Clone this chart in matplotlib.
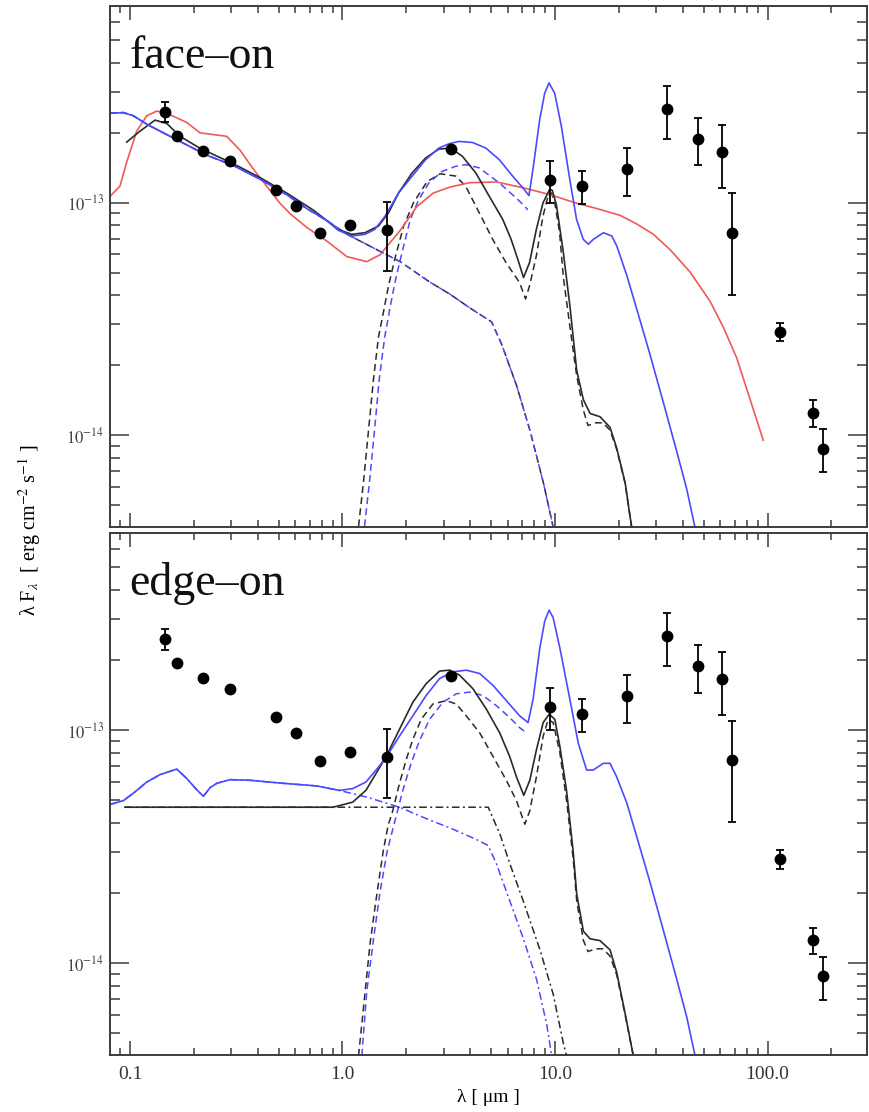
import numpy as np
import matplotlib
matplotlib.use("Agg")
import matplotlib.pyplot as plt
from matplotlib.ticker import LogLocator, NullFormatter

plt.rcParams['font.family'] = 'serif'
plt.rcParams['font.serif'] = ['Liberation Serif', 'DejaVu Serif']
plt.rcParams['mathtext.fontset'] = 'stix'

# all fluxes below are lambda*F_lambda in units of 1e-13 erg cm^-2 s^-1, wavelengths in micron
UNIT = 1e-13

# observed photometry (same in both panels)
obs_lam = [0.146, 0.166, 0.2215, 0.296, 0.487, 0.605, 0.785, 1.079, 1.617, 3.226,
           9.47, 13.45, 21.75, 33.8, 47.3, 60.9, 67.9, 114.7, 163.5, 181.6]
obs_f = [2.446, 1.94, 1.665, 1.504, 1.138, 0.970, 0.739, 0.802, 0.762, 1.698,
         1.249, 1.175, 1.393, 2.535, 1.884, 1.653, 0.742, 0.279, 0.1249, 0.0875]
obs_hi = [2.71, 1.94, 1.665, 1.504, 1.138, 0.970, 0.739, 0.802, 1.01, 1.698,
          1.508, 1.361, 1.72, 3.18, 2.31, 2.158, 1.097, 0.305, 0.141, 0.1064]
obs_lo = [2.21, 1.94, 1.665, 1.504, 1.138, 0.970, 0.739, 0.802, 0.508, 1.698,
          1.0, 0.983, 1.071, 1.884, 1.447, 1.154, 0.401, 0.253, 0.1089, 0.0694]

# ---- face-on models ----
red_face_lam = [0.0805, 0.0897, 0.0965, 0.1075, 0.120, 0.1335, 0.149, 0.185, 0.2135, 0.2466,
                0.285, 0.329, 0.380, 0.4395, 0.508, 0.566, 0.678, 0.842, 1.047, 1.30,
                1.50, 1.865, 2.235, 2.675, 3.205, 3.98, 5.32, 7.09, 9.47, 12.65,
                15.7, 20.2, 24.2, 29.0, 34.8, 43.2, 53.6, 61.9, 71.6, 82.7, 95.5]
red_face_f = [1.063, 1.177, 1.493, 2.028, 2.363, 2.472, 2.422, 2.21, 1.995, 1.96,
              1.927, 1.683, 1.396, 1.177, 0.993, 0.897, 0.783, 0.684, 0.586, 0.557,
              0.596, 0.757, 0.960, 1.099, 1.166, 1.218, 1.226, 1.157, 1.082, 0.993,
              0.943, 0.882, 0.810, 0.731, 0.627, 0.503, 0.377, 0.292, 0.215, 0.143, 0.0950]

blue_face_lam = [0.0805, 0.093, 0.1036, 0.120, 0.149, 0.185, 0.2296, 0.3062, 0.409, 0.546,
                 0.678, 0.842, 0.955, 1.104, 1.276, 1.42, 1.587, 1.837, 2.125, 2.458,
                 2.842, 3.17, 3.536, 4.09, 4.73, 5.47, 6.33, 7.06, 7.54, 7.87,
                 8.47, 8.94, 9.37, 9.97, 10.72, 11.74, 12.63, 13.58, 14.35, 15.15,
                 16.9, 18.51, 19.54, 21.8, 24.3, 28.0, 32.4, 37.4, 41.7, 45.6]
blue_face_f = [2.422, 2.437, 2.363, 2.172, 1.960, 1.770, 1.599, 1.444, 1.261, 1.082,
               0.943, 0.838, 0.76, 0.718, 0.730, 0.767, 0.875, 1.101, 1.297, 1.528,
               1.715, 1.79, 1.832, 1.813, 1.715, 1.528, 1.297, 1.156, 1.072, 1.386,
               2.27, 2.95, 3.27, 2.95, 2.12, 1.256, 0.847, 0.695, 0.662, 0.695,
               0.742, 0.718, 0.650, 0.484, 0.346, 0.222, 0.1374, 0.0851, 0.0585, 0.040]

black_face_lam = [0.0965, 0.1115, 0.1311, 0.149, 0.1719, 0.2135, 0.3062, 0.409, 0.546, 0.729,
                  0.955, 1.104, 1.276, 1.477, 1.647, 1.837, 2.125, 2.458, 2.842, 3.228,
                  3.667, 4.242, 4.906, 5.675, 6.215, 6.68, 7.11, 7.59, 8.17, 8.78,
                  9.44, 9.7, 10.15, 10.92, 11.75, 12.65, 13.6, 14.62, 16.29, 18.16,
                  19.51, 21.37, 22.96]
black_face_f = [1.820, 2.028, 2.262, 2.187, 1.927, 1.712, 1.469, 1.281, 1.099, 0.928,
                0.767, 0.730, 0.742, 0.793, 0.904, 1.101, 1.34, 1.554, 1.698, 1.715,
                1.581, 1.34, 1.064, 0.847, 0.695, 0.571, 0.476, 0.552, 0.767, 0.997,
                1.14, 1.13, 0.98, 0.62, 0.36, 0.19, 0.142, 0.124, 0.12, 0.108,
                0.088, 0.0626, 0.040]

dust_face_lam = [1.19, 1.256, 1.326, 1.40, 1.477, 1.56, 1.647, 1.77, 1.938, 2.16,
                 2.5, 2.88, 3.41, 3.80, 4.40, 5.09, 5.88, 6.81, 7.27, 7.59,
                 8.17, 8.78, 9.27, 9.62, 9.97, 10.5, 10.94, 11.77, 12.65, 13.6,
                 14.3, 15.5, 16.8, 18.16, 19.51, 21.37, 22.96]
dust_face_f = [0.0406, 0.0632, 0.105, 0.175, 0.264, 0.34, 0.44, 0.58, 0.79, 1.0,
               1.23, 1.33, 1.30, 1.175, 0.904, 0.695, 0.552, 0.453, 0.385, 0.439,
               0.590, 0.875, 1.064, 1.10, 1.0, 0.75, 0.48, 0.29, 0.18, 0.128,
               0.11, 0.113, 0.113, 0.105, 0.087, 0.062, 0.040]

bdust_face_lam = [1.27, 1.34, 1.415, 1.49, 1.58, 1.68, 1.78, 1.905, 2.086, 2.285,
                  2.549, 2.948, 3.41, 3.80, 4.40, 5.47, 6.56, 7.19, 7.45]
bdust_face_f = [0.0406, 0.0632, 0.105, 0.175, 0.264, 0.36, 0.47, 0.609, 0.847, 1.03,
                1.215, 1.362, 1.432, 1.456, 1.41, 1.215, 1.047, 0.966, 0.93]

star_face_lam = [0.0805, 0.093, 0.1036, 0.120, 0.149, 0.185, 0.2296, 0.3062, 0.409, 0.546,
                 0.678, 0.842, 1.048, 1.869, 2.578, 3.203, 3.98, 5.03, 5.61, 6.60,
                 7.63, 8.81, 9.82]
star_face_f = [2.422, 2.437, 2.363, 2.172, 1.960, 1.770, 1.599, 1.444, 1.261, 1.082,
               0.943, 0.838, 0.731, 0.557, 0.455, 0.404, 0.352, 0.307, 0.246, 0.163,
               0.1045, 0.0626, 0.040]

# ---- edge-on models ----
blue_edge_lam = [0.0805, 0.093, 0.1037, 0.1198, 0.1384, 0.1659, 0.1849, 0.206, 0.2215, 0.238,
                 0.256, 0.296, 0.367, 0.527, 0.757, 0.966, 1.117, 1.29, 1.439, 1.604,
                 1.853, 2.142, 2.476, 2.862, 3.309, 3.824, 4.42, 5.11, 5.90, 6.82,
                 7.47, 7.89, 8.48, 8.95, 9.38, 9.80, 10.54, 11.74, 12.86, 14.08,
                 15.14, 16.87, 18.14, 19.5, 21.8, 24.3, 28.0, 32.4, 37.4, 41.7, 45.6]
blue_edge_f = [0.479, 0.497, 0.535, 0.597, 0.643, 0.679, 0.619, 0.554, 0.519, 0.565,
               0.590, 0.612, 0.608, 0.590, 0.575, 0.550, 0.560, 0.598, 0.673, 0.762,
               0.940, 1.149, 1.406, 1.661, 1.775, 1.805, 1.746, 1.553, 1.336, 1.149,
               1.075, 1.358, 2.245, 2.934, 3.266, 3.034, 2.245, 1.358, 0.879, 0.673,
               0.673, 0.719, 0.719, 0.630, 0.484, 0.346, 0.222, 0.1374, 0.0851, 0.0585, 0.040]

black_edge_lam = [0.0947, 0.9, 0.966, 1.117, 1.29, 1.439, 1.604, 1.853, 2.142, 2.476,
                  2.862, 3.19, 3.557, 4.11, 4.75, 5.49, 6.12, 6.58, 7.13, 7.61,
                  8.18, 8.796, 9.39, 9.98, 10.54, 11.33, 12.18, 12.65, 13.6, 14.62,
                  16.29, 18.16, 19.51, 21.37, 23.38]
black_edge_f = [0.466, 0.466, 0.4733, 0.490, 0.551, 0.651, 0.769, 1.005, 1.314, 1.58,
                1.788, 1.806, 1.718, 1.502, 1.229, 0.972, 0.769, 0.63, 0.524, 0.608,
                0.8225, 1.075, 1.169, 1.11, 0.85, 0.55, 0.30, 0.1977, 0.1368, 0.127,
                0.1247, 0.1138, 0.0912, 0.0608, 0.0398]

dust_edge_lam = [1.19, 1.279, 1.35, 1.451, 1.56, 1.64, 1.724, 1.853, 1.993, 2.142,
                 2.345, 2.663, 3.077, 3.43, 3.824, 4.42, 5.11, 5.90, 6.58, 7.21,
                 7.61, 8.18, 8.796, 9.29, 9.80, 10.54, 11.33, 12.18, 12.65, 13.6,
                 14.3, 15.5, 16.8, 18.16, 19.51, 21.37, 23.38]
dust_edge_f = [0.040, 0.0759, 0.1225, 0.1977, 0.3076, 0.39, 0.450, 0.588, 0.744, 0.909,
               1.11, 1.292, 1.336, 1.292, 1.149, 0.972, 0.769, 0.608, 0.498, 0.394,
               0.45, 0.63, 0.94, 1.11, 1.075, 0.80, 0.50, 0.28, 0.185, 0.125,
               0.112, 0.115, 0.115, 0.107, 0.089, 0.060, 0.0398]

bdust_edge_lam = [1.233, 1.302, 1.40, 1.50, 1.62, 1.756, 1.922, 2.104, 2.304, 2.568,
                  2.968, 3.43, 3.965, 4.58, 5.30, 6.12, 6.82, 7.34]
bdust_edge_f = [0.040, 0.076, 0.127, 0.2, 0.3, 0.40, 0.55, 0.72, 0.90, 1.11,
                1.314, 1.429, 1.453, 1.405, 1.271, 1.13, 1.022, 0.972]

star_edge_lam = [0.0947, 4.85, 5.51, 6.14, 7.10, 8.50, 9.82, 10.94, 11.34]
star_edge_f = [0.466, 0.466, 0.3565, 0.2655, 0.1837, 0.1138, 0.0731, 0.0453, 0.040]

bstar_edge_lam = [0.0805, 0.093, 0.1037, 0.1198, 0.1384, 0.1659, 0.1849, 0.206, 0.2215, 0.238,
                  0.256, 0.296, 0.367, 0.527, 0.757, 0.966, 1.3, 1.853, 2.58, 3.2,
                  4.26, 4.85, 5.31, 6.14, 7.10, 8.20, 9.14, 9.65]
bstar_edge_f = [0.479, 0.497, 0.535, 0.597, 0.643, 0.679, 0.619, 0.554, 0.519, 0.565,
                0.590, 0.612, 0.608, 0.590, 0.575, 0.550, 0.515, 0.466, 0.41, 0.38,
                0.339, 0.319, 0.2655, 0.1837, 0.127, 0.0847, 0.0545, 0.040]

xticks = [0.1, 1.0, 10.0, 100.0]
xtick_labels = ['0.1', '1.0', '10.0', '100.0']
yticks = [1e-14, 1e-13]
ytick_labels = ['$10^{-14}$', '$10^{-13}$']

BLUE = '#4a4aff'
RED = '#f05a55'
BLACK = '#2a2a2a'
DASH = (0, (4.5, 2.8))
DASHDOT = (0, (5, 2.2, 1.3, 2.2))
FRAME = '#3c3c3c'


def fl(vals):
    return np.asarray(vals) * UNIT


def style(ax, title, show_xlabels):
    ax.set_xscale('log')
    ax.set_yscale('log')
    ax.set_xlim(0.0805, 294)
    ax.set_ylim(4.03e-15, 7.0e-13)
    ax.set_xticks(xticks)
    ax.set_xticklabels(xtick_labels if show_xlabels else [])
    ax.set_yticks(yticks)
    ax.set_yticklabels(ytick_labels)
    ax.xaxis.set_minor_locator(LogLocator(base=10, subs=np.arange(2, 10)))
    ax.yaxis.set_minor_locator(LogLocator(base=10, subs=np.arange(2, 10)))
    ax.xaxis.set_minor_formatter(NullFormatter())
    ax.yaxis.set_minor_formatter(NullFormatter())
    ax.tick_params(which='both', direction='in', top=True, right=True, color=FRAME, width=1.1)
    ax.tick_params(axis='y', which='major', length=14, labelsize=12, labelcolor='#444', pad=4)
    ax.tick_params(axis='y', which='minor', length=7)
    ax.tick_params(axis='x', which='major', length=10, labelsize=14, labelcolor='#333', pad=8)
    ax.tick_params(axis='x', which='minor', length=5)
    for sp in ax.spines.values():
        sp.set_color(FRAME)
        sp.set_linewidth(1.4)
    ax.text(0.026, 0.881, title, transform=ax.transAxes, fontsize=33,
            va='baseline', ha='left', color='#111')


def plot_obs(ax):
    f = np.asarray(obs_f)
    yerr = [f - np.asarray(obs_lo), np.asarray(obs_hi) - f]
    ax.errorbar(obs_lam, fl(obs_f), yerr=np.asarray(yerr) * UNIT, fmt='o', color='black',
                markersize=7.5, elinewidth=1.3, capsize=3, capthick=1.3, zorder=10)


fig = plt.figure(figsize=(8.7, 11.12), dpi=100)
ax_top = fig.add_axes([0.1264, 0.5261, 0.8702, 0.4685])
ax_bot = fig.add_axes([0.1264, 0.0513, 0.8702, 0.4694])

# face-on panel
ax_top.plot(star_face_lam, fl(star_face_f), color=BLACK, ls=DASH, lw=1.1)
ax_top.plot(star_face_lam, fl(star_face_f), color=BLUE, ls=DASH, lw=1.0, zorder=2.1)
ax_top.plot(dust_face_lam, fl(dust_face_f), color=BLACK, ls=DASH, lw=1.1)
ax_top.plot(bdust_face_lam, fl(bdust_face_f), color=BLUE, ls=DASH, lw=1.1)
ax_top.plot(red_face_lam, fl(red_face_f), color=RED, lw=1.2)
ax_top.plot(black_face_lam, fl(black_face_f), color=BLACK, lw=1.2)
ax_top.plot(blue_face_lam, fl(blue_face_f), color=BLUE, lw=1.2)
plot_obs(ax_top)
style(ax_top, 'face\u2013on', False)

# edge-on panel
ax_bot.plot(star_edge_lam, fl(star_edge_f), color=BLACK, ls=DASHDOT, lw=1.1, zorder=3)
ax_bot.plot(bstar_edge_lam, fl(bstar_edge_f), color=BLUE, ls=DASHDOT, lw=1.1)
ax_bot.plot(dust_edge_lam, fl(dust_edge_f), color=BLACK, ls=DASH, lw=1.1)
ax_bot.plot(bdust_edge_lam, fl(bdust_edge_f), color=BLUE, ls=DASH, lw=1.1)
ax_bot.plot(black_edge_lam, fl(black_edge_f), color=BLACK, lw=1.2)
ax_bot.plot(blue_edge_lam, fl(blue_edge_f), color=BLUE, lw=1.2)
plot_obs(ax_bot)
style(ax_bot, 'edge\u2013on', True)

ax_bot.set_xlabel('\u03bb [ \u03bcm ]', fontsize=14, labelpad=4)
fig.text(0.034, 0.5234, '\u03bb F$_\\lambda$  [ erg cm$^{-2}$ s$^{-1}$ ]', rotation=90,
         ha='center', va='center', fontsize=14.5)

fig.savefig('out.png', dpi=100)
